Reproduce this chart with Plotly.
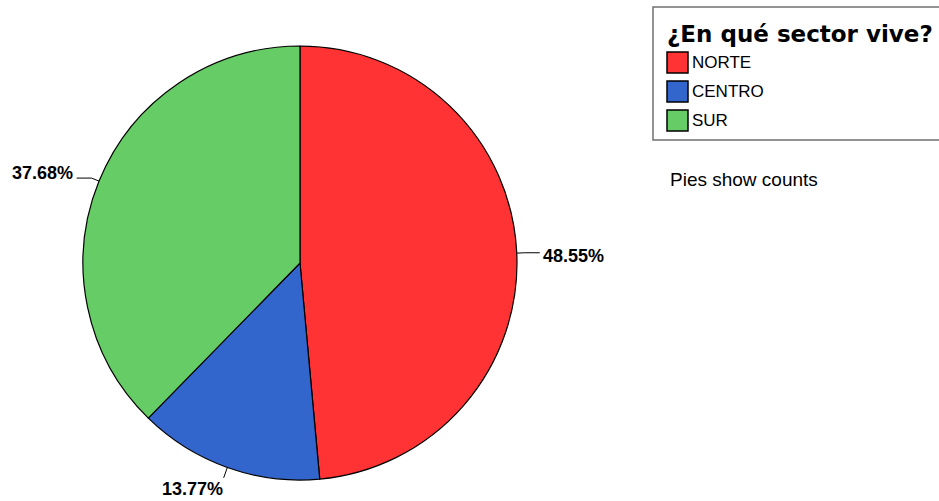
import numpy as np
import plotly.graph_objects as go

# ---- data ----
categories = ["NORTE", "CENTRO", "SUR"]
counts = [67, 19, 52]
colors = ["#FF3333", "#3366CC", "#66CC66"]
legend_title = "¿En qué sector vive?"
note_text = "Pies show counts"

# ---- layout geometry (pixels) ----
W, H = 939, 501
CX, CY, R = 300, 263, 217


def px(x):
    return x / W


def py(y):
    return 1 - y / H


fig = go.Figure(
    go.Pie(
        labels=categories,
        values=counts,
        sort=False,
        direction="clockwise",
        rotation=0,
        marker=dict(colors=colors, line=dict(color="black", width=1.2)),
        textinfo="none",
        hoverinfo="label+value+percent",
        domain=dict(x=[px(CX - R), px(CX + R)], y=[py(CY + R), py(CY - R)]),
        showlegend=False,
    )
)

shapes = []
annotations = []
label_font = dict(family="Liberation Sans", size=18, color="black", weight="bold")

vals = np.array(counts, dtype=float)
total = vals.sum()
pcts = vals / total * 100
starts = np.concatenate([[0], np.cumsum(vals)[:-1]])
mids = (starts + vals / 2) / total * 360.0

for pct, mid in zip(pcts, mids):
    th = np.radians(mid)
    ux, uy = np.sin(th), -np.cos(th)
    ex, ey = CX + R * ux, CY + R * uy
    label = f"{pct:.2f}%"
    if abs(mid - 180) < 35:
        qx, qy = ex + 11 * ux, ey + 11 * uy
        shapes.append(dict(type="line", xref="paper", yref="paper",
                           x0=px(ex), y0=py(ey), x1=px(qx), y1=py(qy),
                           line=dict(color="black", width=1)))
        annotations.append(dict(x=px(qx + 1), y=py(qy + 11), xref="paper", yref="paper",
                                text=label, showarrow=False, xanchor="right", yanchor="middle",
                                font=label_font))
    else:
        qx, qy = ex + 8 * ux, ey + 8 * uy
        side = 1 if ux >= 0 else -1
        hx = qx + side * 15
        path = f"M{px(ex)},{py(ey)} L{px(qx)},{py(qy)} L{px(hx)},{py(qy)}"
        shapes.append(dict(type="path", xref="paper", yref="paper", path=path,
                           line=dict(color="black", width=1)))
        if side > 0:
            annotations.append(dict(x=px(hx + 1), y=py(qy + 3), xref="paper", yref="paper",
                                    text=label, showarrow=False, xanchor="left", yanchor="middle",
                                    font=label_font))
        else:
            annotations.append(dict(x=px(hx - 2), y=py(qy - 5), xref="paper", yref="paper",
                                    text=label, showarrow=False, xanchor="right", yanchor="middle",
                                    font=label_font))

# ---- custom legend ----
shapes.append(dict(type="rect", xref="paper", yref="paper",
                   x0=px(653), x1=px(960), y0=py(140), y1=py(7),
                   line=dict(color="#707070", width=1.5), fillcolor="white", layer="below"))
annotations.append(dict(x=px(665), y=py(34), xref="paper", yref="paper", text=legend_title,
                        showarrow=False, xanchor="left", yanchor="middle",
                        font=dict(family="DejaVu Sans", size=23, color="black", weight="bold")))
for i, (cat, col) in enumerate(zip(categories, colors)):
    top = 52 + 29 * i
    shapes.append(dict(type="rect", xref="paper", yref="paper",
                       x0=px(667), x1=px(688), y0=py(top + 21), y1=py(top),
                       line=dict(color="black", width=1.5), fillcolor=col))
    annotations.append(dict(x=px(690), y=py(top + 11), xref="paper", yref="paper", text=cat,
                            showarrow=False, xanchor="left", yanchor="middle",
                            font=dict(family="Liberation Sans", size=17, color="black")))

annotations.append(dict(x=px(668), y=py(180), xref="paper", yref="paper", text=note_text,
                        showarrow=False, xanchor="left", yanchor="middle",
                        font=dict(family="Liberation Sans", size=19, color="black")))

fig.update_layout(
    width=W, height=H,
    margin=dict(l=0, r=0, t=0, b=0),
    paper_bgcolor="white", plot_bgcolor="white",
    shapes=shapes, annotations=annotations,
    showlegend=False,
)

fig.write_html("out.html")
